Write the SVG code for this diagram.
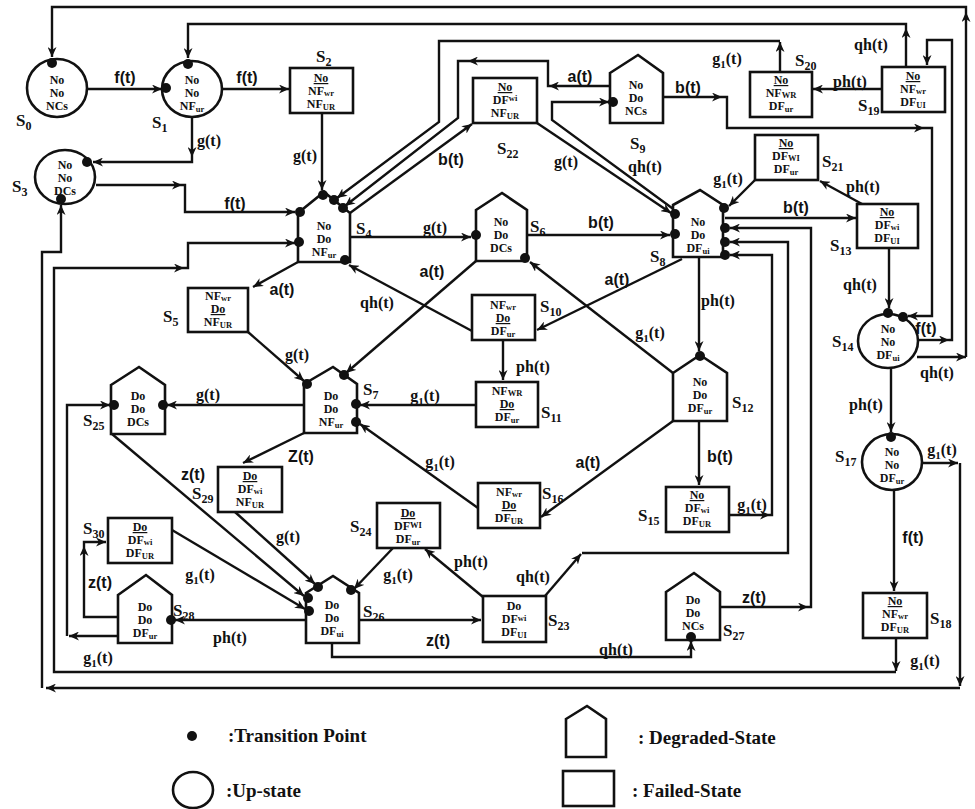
<svg xmlns="http://www.w3.org/2000/svg" width="975" height="809" viewBox="0 0 975 809">
<defs>
<marker id="a" markerWidth="11" markerHeight="9" refX="10" refY="4.5" orient="auto" markerUnits="userSpaceOnUse"><path d="M0,0 L10,4.5 L0,9 L3,4.5 Z" fill="#111"/></marker>
<style>
.n{fill:#fff;stroke:#111;stroke-width:2.6}
.e{fill:none;stroke:#111;stroke-width:2.4;marker-end:url(#a)}
.d{fill:#111}
.t{font-family:"Liberation Serif",serif;font-weight:bold;font-size:12px;text-anchor:middle;fill:#111}
.u{text-decoration:underline}
.s{font-family:"Liberation Serif",serif;font-weight:bold;font-size:17px;fill:#111}
.ls{font-family:"Liberation Sans",sans-serif;font-weight:bold;font-size:16px;text-anchor:middle;fill:#111}
.lr{font-family:"Liberation Serif",serif;font-weight:bold;font-size:16px;text-anchor:middle;fill:#111}
.lg{font-family:"Liberation Serif",serif;font-weight:bold;font-size:19px;fill:#111}
.b{font-size:8.5px}
.g{font-size:11px}
</style>
</defs>
<rect width="975" height="809" fill="#fff"/>

<g id="connectors">
<path class="e" d="M87,89 L162,89"/>
<path class="e" d="M222,89 L289,89"/>
<path class="e" d="M192,118 L192,157"/>
<path class="e" d="M192,157 L192,162 L93,162"/>
<path class="e" d="M96,185 L182,185"/>
<path class="e" d="M182,185 L185,185 L185,212 L295,212"/>
<path class="e" d="M322,113 L322,190"/>
<path class="e" d="M350,237 L471,237"/>
<path class="e" d="M298,262 L253,287"/>
<path class="e" d="M248,332 L304,381"/>
<path class="e" d="M472,331 L349,265"/>
<path class="e" d="M476,261 L346,373"/>
<path class="e" d="M350,213 L472,124"/>
<path class="e" d="M780,72 L780,42"/>
<path class="e" d="M780,41 L439,41 L439,122 L337,198"/>
<path class="e" d="M610,86 L549,86"/>
<path class="e" d="M549,86 L548,86 L548,61 L468,61"/>
<path class="e" d="M468,61 L458,61 L458,118 L345,206"/>
<path class="e" d="M537,123 L671,213"/>
<path class="e" d="M676,211 L552,120 L552,102 L609,102"/>
<path class="e" d="M527,235 L670,235"/>
<path class="e" d="M663,97 L722,97"/>
<path class="e" d="M722,97 L727,97 L727,128 L924,128"/>
<path class="e" d="M924,128 L932,128 L932,316 L908,316"/>
<path class="e" d="M755,180 L729,206"/>
<path class="e" d="M725,218 L856,218"/>
<path class="e" d="M862,204 L820,181"/>
<path class="e" d="M882,89 L813,89"/>
<path class="e" d="M906,67 L906,28"/>
<path class="e" d="M906,28 L906,24 L188,24 L188,58"/>
<path class="e" d="M917,340 L949,340"/>
<path class="e" d="M949,340 L952,340 L952,40 L927,40 L927,65"/>
<path class="e" d="M917,357 L966,357"/>
<path class="e" d="M966,357 L966,12"/>
<path class="e" d="M966,12 L966,7 L52,7 L52,57"/>
<path class="e" d="M889,248 L889,308"/>
<path class="e" d="M891,368 L891,432"/>
<path class="e" d="M922,463 L958,463"/>
<path class="e" d="M960,463 L960,686"/>
<path class="e" d="M960,688 L46,688"/>
<path class="e" d="M42,688 L42,252 L61,252 L61,205"/>
<path class="e" d="M894,490 L894,591"/>
<path class="e" d="M896,638 L896,671"/>
<path class="e" d="M896,672 L54,672 L54,268 L184,268"/>
<path class="e" d="M184,268 L188,268 L188,243 L295,243"/>
<path class="e" d="M699,257 L699,351"/>
<path class="e" d="M682,259 L537,330"/>
<path class="e" d="M673,373 L530,262"/>
<path class="e" d="M503,340 L503,380"/>
<path class="e" d="M476,405 L360,405"/>
<path class="e" d="M478,508 L360,424"/>
<path class="e" d="M699,421 L699,485"/>
<path class="e" d="M673,421 L541,517"/>
<path class="e" d="M729,515 L770,515"/>
<path class="e" d="M770,515 L772,515 L772,255 L730,255"/>
<path class="e" d="M545,596 L581,554"/>
<path class="e" d="M582,553 L788,553 L788,242 L730,242"/>
<path class="e" d="M720,607 L808,607"/>
<path class="e" d="M808,607 L811,607 L811,228 L730,228"/>
<path class="e" d="M304,405 L167,405"/>
<path class="e" d="M304,433 L243,463"/>
<path class="e" d="M112,434 L304,596"/>
<path class="e" d="M235,512 L315,584"/>
<path class="e" d="M172,530 L305,609"/>
<path class="e" d="M393,548 L354,589"/>
<path class="e" d="M483,597 L425,549"/>
<path class="e" d="M359,620 L481,620"/>
<path class="e" d="M306,620 L175,620"/>
<path class="e" d="M332,643 L332,657 L691,657 L691,641"/>
<path class="e" d="M118,617 L84,617 L84,546"/>
<path class="e" d="M84,546 L84,542 L106,542"/>
<path class="e" d="M118,636 L69,636"/>
<path class="e" d="M67,636 L67,405 L110,405"/>
</g>

<g id="edge-labels">
<text class="ls" x="125" y="83">f(t)</text>
<text class="ls" x="247" y="83">f(t)</text>
<text class="lr" x="209" y="146">g(t)</text>
<text class="ls" x="235" y="209">f(t)</text>
<text class="lr" x="305" y="161">g(t)</text>
<text class="lr" x="435" y="233">g(t)</text>
<text class="ls" x="282" y="295">a(t)</text>
<text class="lr" x="297" y="360">g(t)</text>
<text class="lr" x="377" y="308">qh(t)</text>
<text class="ls" x="432" y="277">a(t)</text>
<text class="ls" x="451" y="165">b(t)</text>
<text class="lr" x="727" y="64">g<tspan class="g" dy="4">1</tspan><tspan dy="-4">(t)</tspan></text>
<text class="ls" x="580" y="82">a(t)</text>
<text class="lr" x="566" y="167">g(t)</text>
<text class="lr" x="645" y="172">qh(t)</text>
<text class="ls" x="601" y="228">b(t)</text>
<text class="ls" x="688" y="93">b(t)</text>
<text class="lr" x="728" y="184">g<tspan class="g" dy="4">1</tspan><tspan dy="-4">(t)</tspan></text>
<text class="ls" x="796" y="213">b(t)</text>
<text class="lr" x="863" y="192">ph(t)</text>
<text class="lr" x="850" y="87">ph(t)</text>
<text class="lr" x="871" y="50">qh(t)</text>
<text class="ls" x="926" y="334">f(t)</text>
<text class="lr" x="937" y="378">qh(t)</text>
<text class="lr" x="860" y="290">qh(t)</text>
<text class="lr" x="866" y="410">ph(t)</text>
<text class="lr" x="942" y="455">g<tspan class="g" dy="4">1</tspan><tspan dy="-4">(t)</tspan></text>
<text class="ls" x="913" y="543">f(t)</text>
<text class="lr" x="925" y="666">g<tspan class="g" dy="4">1</tspan><tspan dy="-4">(t)</tspan></text>
<text class="lr" x="718" y="306">ph(t)</text>
<text class="ls" x="617" y="285">a(t)</text>
<text class="lr" x="650" y="338">g<tspan class="g" dy="4">1</tspan><tspan dy="-4">(t)</tspan></text>
<text class="lr" x="533" y="372">ph(t)</text>
<text class="lr" x="425" y="401">g<tspan class="g" dy="4">1</tspan><tspan dy="-4">(t)</tspan></text>
<text class="lr" x="440" y="467">g<tspan class="g" dy="4">1</tspan><tspan dy="-4">(t)</tspan></text>
<text class="ls" x="720" y="462">b(t)</text>
<text class="ls" x="588" y="468">a(t)</text>
<text class="lr" x="752" y="510">g<tspan class="g" dy="4">1</tspan><tspan dy="-4">(t)</tspan></text>
<text class="lr" x="533" y="582">qh(t)</text>
<text class="ls" x="754" y="603">z(t)</text>
<text class="lr" x="208" y="400">g(t)</text>
<text class="ls" x="301" y="462">Z(t)</text>
<text class="ls" x="193" y="480">z(t)</text>
<text class="lr" x="288" y="542">g(t)</text>
<text class="lr" x="200" y="580">g<tspan class="g" dy="4">1</tspan><tspan dy="-4">(t)</tspan></text>
<text class="lr" x="398" y="580">g<tspan class="g" dy="4">1</tspan><tspan dy="-4">(t)</tspan></text>
<text class="lr" x="471" y="567">ph(t)</text>
<text class="ls" x="438" y="646">z(t)</text>
<text class="lr" x="230" y="643">ph(t)</text>
<text class="lr" x="616" y="655">qh(t)</text>
<text class="ls" x="100" y="588">z(t)</text>
<text class="lr" x="98" y="663">g<tspan class="g" dy="4">1</tspan><tspan dy="-4">(t)</tspan></text>
</g>

<g id="S0"><ellipse class="n" cx="57" cy="88" rx="30" ry="29"/><text class="t"><tspan x="57" y="84">No</tspan><tspan x="57" y="97">No</tspan><tspan x="57" y="110">NCs</tspan></text><circle class="d" cx="52" cy="63" r="5"/><text class="s" x="16" y="126">S<tspan font-size="12" dy="4">0</tspan></text></g>
<g id="S1"><ellipse class="n" cx="192" cy="89" rx="30" ry="28"/><text class="t"><tspan x="192" y="84">No</tspan><tspan x="192" y="97">No</tspan><tspan x="192" y="110">NF<tspan class="b" dy="2">ur</tspan></tspan></text><circle class="d" cx="188" cy="64" r="5"/><circle class="d" cx="166" cy="88" r="5"/><text class="s" x="152" y="128">S<tspan font-size="12" dy="4">1</tspan></text></g>
<g id="S2"><rect class="n" x="290" y="68" width="63" height="45"/><text class="t"><tspan class="u" x="321" y="82">No</tspan><tspan x="321" y="95">NF<tspan class="b" dy="0.5">wr</tspan></tspan><tspan x="321" y="108">NF<tspan class="b" dy="2">UR</tspan></tspan></text><text class="s" x="316" y="62">S<tspan font-size="12" dy="4">2</tspan></text></g>
<g id="S3"><ellipse class="n" cx="65" cy="177" rx="30" ry="27"/><text class="t"><tspan x="65" y="169">No</tspan><tspan x="65" y="182">No</tspan><tspan x="65" y="195">DCs</tspan></text><circle class="d" cx="87" cy="162" r="5"/><circle class="d" cx="61" cy="199" r="5"/><text class="s" x="12" y="192">S<tspan font-size="12" dy="4">3</tspan></text></g>
<g id="S4"><polygon class="n" points="298,213 324,192 350,213 350,262 298,262"/><text class="t"><tspan x="324" y="230">No</tspan><tspan x="324" y="243">Do</tspan><tspan x="324" y="256">NF<tspan class="b" dy="2">ur</tspan></tspan></text><circle class="d" cx="300" cy="212" r="5"/><circle class="d" cx="299" cy="242" r="5"/><circle class="d" cx="323" cy="195" r="5"/><circle class="d" cx="334" cy="200" r="5"/><circle class="d" cx="343" cy="208" r="5"/><circle class="d" cx="345" cy="260" r="5"/><text class="s" x="356" y="234">S<tspan font-size="12" dy="4">4</tspan></text></g>
<g id="S5"><rect class="n" x="188" y="288" width="60" height="44"/><text class="t"><tspan x="218" y="300">NF<tspan class="b" dy="0.5">wr</tspan></tspan><tspan class="u" x="218" y="313">Do</tspan><tspan x="218" y="326">NF<tspan class="b" dy="2">UR</tspan></tspan></text><text class="s" x="163" y="322">S<tspan font-size="12" dy="4">5</tspan></text></g>
<g id="S6"><polygon class="n" points="476,210 502,193 527,210 527,261 476,261"/><text class="t"><tspan x="501" y="226">No</tspan><tspan x="501" y="239">Do</tspan><tspan x="501" y="252">DCs</tspan></text><circle class="d" cx="476" cy="235" r="5"/><circle class="d" cx="525" cy="258" r="5"/><text class="s" x="530" y="232">S<tspan font-size="12" dy="4">6</tspan></text></g>
<g id="S7"><polygon class="n" points="304,384 333,367 357,384 357,433 304,433"/><text class="t"><tspan x="331" y="400">Do</tspan><tspan x="331" y="413">Do</tspan><tspan x="331" y="426">NF<tspan class="b" dy="2">ur</tspan></tspan></text><circle class="d" cx="307" cy="384" r="5"/><circle class="d" cx="344" cy="375" r="5"/><circle class="d" cx="356" cy="404" r="5"/><circle class="d" cx="356" cy="422" r="5"/><text class="s" x="363" y="395">S<tspan font-size="12" dy="4">7</tspan></text></g>
<g id="S8"><polygon class="n" points="673,205 700,190 723,205 723,257 673,257"/><text class="t"><tspan x="698" y="226">No</tspan><tspan x="698" y="239">Do</tspan><tspan x="698" y="252">DF<tspan class="b" dy="2">ui</tspan></tspan></text><circle class="d" cx="675" cy="214" r="5"/><circle class="d" cx="675" cy="234" r="5"/><circle class="d" cx="724" cy="208" r="5"/><circle class="d" cx="725" cy="228" r="5"/><circle class="d" cx="725" cy="242" r="5"/><circle class="d" cx="725" cy="255" r="5"/><text class="s" x="650" y="262">S<tspan font-size="12" dy="4">8</tspan></text></g>
<g id="S9"><polygon class="n" points="610,73 638,55 663,73 663,123 610,123"/><text class="t"><tspan x="636" y="89">No</tspan><tspan x="636" y="102">Do</tspan><tspan x="636" y="115">NCs</tspan></text><circle class="d" cx="613" cy="102" r="5"/><text class="s" x="630" y="149">S<tspan font-size="12" dy="4">9</tspan></text></g>
<g id="S10"><rect class="n" x="472" y="295" width="63" height="45"/><text class="t"><tspan x="503" y="309">NF<tspan class="b" dy="0.5">wr</tspan></tspan><tspan class="u" x="503" y="322">Do</tspan><tspan x="503" y="335">DF<tspan class="b" dy="2">ur</tspan></tspan></text><text class="s" x="540" y="312">S<tspan font-size="12" dy="4">10</tspan></text></g>
<g id="S11"><rect class="n" x="476" y="382" width="62" height="45"/><text class="t"><tspan x="507" y="395">NF<tspan class="b" dy="0.5">WR</tspan></tspan><tspan class="u" x="507" y="408">Do</tspan><tspan x="507" y="421">DF<tspan class="b" dy="2">ur</tspan></tspan></text><text class="s" x="541" y="418">S<tspan font-size="12" dy="4">11</tspan></text></g>
<g id="S12"><polygon class="n" points="673,373 700,355 727,373 727,421 673,421"/><text class="t"><tspan x="700" y="386">No</tspan><tspan x="700" y="399">Do</tspan><tspan x="700" y="412">DF<tspan class="b" dy="2">ur</tspan></tspan></text><circle class="d" cx="700" cy="356" r="5"/><text class="s" x="732" y="408">S<tspan font-size="12" dy="4">12</tspan></text></g>
<g id="S13"><rect class="n" x="857" y="204" width="61" height="44"/><text class="t"><tspan class="u" x="887" y="216">No</tspan><tspan x="887" y="229">DF<tspan class="b" dy="0.5">wi</tspan></tspan><tspan x="887" y="242">DF<tspan class="b" dy="2">UI</tspan></tspan></text><text class="s" x="830" y="251">S<tspan font-size="12" dy="4">13</tspan></text></g>
<g id="S14"><ellipse class="n" cx="888" cy="341" rx="30" ry="27"/><text class="t"><tspan x="888" y="333">No</tspan><tspan x="888" y="346">No</tspan><tspan x="888" y="359">DF<tspan class="b" dy="2">ui</tspan></tspan></text><circle class="d" cx="888" cy="313" r="5"/><circle class="d" cx="903" cy="317" r="5"/><text class="s" x="832" y="347">S<tspan font-size="12" dy="4">14</tspan></text></g>
<g id="S15"><rect class="n" x="666" y="487" width="63" height="45"/><text class="t"><tspan class="u" x="697" y="499">No</tspan><tspan x="697" y="512">DF<tspan class="b" dy="0.5">wi</tspan></tspan><tspan x="697" y="525">DF<tspan class="b" dy="2">UR</tspan></tspan></text><text class="s" x="638" y="521">S<tspan font-size="12" dy="4">15</tspan></text></g>
<g id="S16"><rect class="n" x="478" y="483" width="62" height="45"/><text class="t"><tspan x="509" y="496">NF<tspan class="b" dy="0.5">wr</tspan></tspan><tspan class="u" x="509" y="509">Do</tspan><tspan x="509" y="522">DF<tspan class="b" dy="2">UR</tspan></tspan></text><text class="s" x="542" y="499">S<tspan font-size="12" dy="4">16</tspan></text></g>
<g id="S17"><ellipse class="n" cx="892" cy="462" rx="30" ry="28"/><text class="t"><tspan x="892" y="456">No</tspan><tspan x="892" y="469">No</tspan><tspan x="892" y="482">DF<tspan class="b" dy="2">ur</tspan></tspan></text><circle class="d" cx="891" cy="437" r="5"/><text class="s" x="835" y="462">S<tspan font-size="12" dy="4">17</tspan></text></g>
<g id="S18"><rect class="n" x="863" y="593" width="64" height="45"/><text class="t"><tspan class="u" x="895" y="605">No</tspan><tspan x="895" y="618">NF<tspan class="b" dy="0.5">wr</tspan></tspan><tspan x="895" y="631">DF<tspan class="b" dy="2">UR</tspan></tspan></text><text class="s" x="930" y="624">S<tspan font-size="12" dy="4">18</tspan></text></g>
<g id="S19"><rect class="n" x="882" y="67" width="63" height="45"/><text class="t"><tspan class="u" x="913" y="80">No</tspan><tspan x="913" y="93">NF<tspan class="b" dy="0.5">wr</tspan></tspan><tspan x="913" y="106">DF<tspan class="b" dy="2">UI</tspan></tspan></text><text class="s" x="858" y="111">S<tspan font-size="12" dy="4">19</tspan></text></g>
<g id="S20"><rect class="n" x="750" y="72" width="62" height="45"/><text class="t"><tspan class="u" x="781" y="84">No</tspan><tspan x="781" y="97">NF<tspan class="b" dy="0.5">WR</tspan></tspan><tspan x="781" y="110">DF<tspan class="b" dy="2">ur</tspan></tspan></text><text class="s" x="795" y="66">S<tspan font-size="12" dy="4">20</tspan></text></g>
<g id="S21"><rect class="n" x="755" y="135" width="63" height="45"/><text class="t"><tspan class="u" x="786" y="147">No</tspan><tspan x="786" y="160">DF<tspan class="b" dy="0.5">WI</tspan></tspan><tspan x="786" y="173">DF<tspan class="b" dy="2">ur</tspan></tspan></text><text class="s" x="822" y="167">S<tspan font-size="12" dy="4">21</tspan></text></g>
<g id="S22"><rect class="n" x="473" y="78" width="64" height="45"/><text class="t"><tspan class="u" x="505" y="91">No</tspan><tspan x="505" y="104">DF<tspan class="b" dy="-3">wi</tspan></tspan><tspan x="505" y="117">NF<tspan class="b" dy="2">UR</tspan></tspan></text><text class="s" x="497" y="154">S<tspan font-size="12" dy="4">22</tspan></text></g>
<g id="S23"><rect class="n" x="483" y="596" width="63" height="46"/><text class="t"><tspan x="514" y="610">Do</tspan><tspan x="514" y="623">DF<tspan class="b" dy="-2">wi</tspan></tspan><tspan x="514" y="636">DF<tspan class="b" dy="2">UI</tspan></tspan></text><text class="s" x="548" y="626">S<tspan font-size="12" dy="4">23</tspan></text></g>
<g id="S24"><rect class="n" x="377" y="503" width="63" height="45"/><text class="t"><tspan class="u" x="408" y="517">Do</tspan><tspan x="408" y="530">DF<tspan class="b" dy="-2">WI</tspan></tspan><tspan x="408" y="543">DF<tspan class="b" dy="2">ur</tspan></tspan></text><text class="s" x="350" y="532">S<tspan font-size="12" dy="4">24</tspan></text></g>
<g id="S25"><polygon class="n" points="111,385 139,367 165,385 165,434 111,434"/><text class="t"><tspan x="138" y="400">Do</tspan><tspan x="138" y="413">Do</tspan><tspan x="138" y="426">DCs</tspan></text><circle class="d" cx="114" cy="405" r="5"/><circle class="d" cx="163" cy="405" r="5"/><text class="s" x="83" y="426">S<tspan font-size="12" dy="4">25</tspan></text></g>
<g id="S26"><polygon class="n" points="306,593 333,576 359,593 359,643 306,643"/><text class="t"><tspan x="332" y="609">Do</tspan><tspan x="332" y="622">Do</tspan><tspan x="332" y="635">DF<tspan class="b" dy="2">ui</tspan></tspan></text><circle class="d" cx="318" cy="587" r="5"/><circle class="d" cx="308" cy="598" r="5"/><circle class="d" cx="309" cy="611" r="5"/><circle class="d" cx="351" cy="590" r="5"/><text class="s" x="363" y="617">S<tspan font-size="12" dy="4">26</tspan></text></g>
<g id="S27"><polygon class="n" points="666,592 694,573 720,592 720,640 666,640"/><text class="t"><tspan x="693" y="604">Do</tspan><tspan x="693" y="617">Do</tspan><tspan x="693" y="630">NCs</tspan></text><circle class="d" cx="691" cy="637" r="5"/><text class="s" x="723" y="636">S<tspan font-size="12" dy="4">27</tspan></text></g>
<g id="S28"><polygon class="n" points="118,595 146,575 172,595 172,643 118,643"/><text class="t"><tspan x="145" y="611">Do</tspan><tspan x="145" y="624">Do</tspan><tspan x="145" y="637">DF<tspan class="b" dy="2">ur</tspan></tspan></text><circle class="d" cx="171" cy="620" r="5"/><text class="s" x="173" y="616">S<tspan font-size="12" dy="4">28</tspan></text></g>
<g id="S29"><rect class="n" x="218" y="467" width="64" height="45"/><text class="t"><tspan class="u" x="250" y="480">Do</tspan><tspan x="250" y="493">DF<tspan class="b" dy="0.5">wi</tspan></tspan><tspan x="250" y="506">NF<tspan class="b" dy="2">UR</tspan></tspan></text><text class="s" x="192" y="499">S<tspan font-size="12" dy="4">29</tspan></text></g>
<g id="S30"><rect class="n" x="108" y="518" width="64" height="45"/><text class="t"><tspan class="u" x="140" y="531">Do</tspan><tspan x="140" y="544">DF<tspan class="b" dy="0.5">wi</tspan></tspan><tspan x="140" y="557">DF<tspan class="b" dy="2">UR</tspan></tspan></text><text class="s" x="83" y="534">S<tspan font-size="12" dy="4">30</tspan></text></g>

<g id="legend">
<circle class="d" cx="192" cy="736" r="5"/><text class="lg" x="228" y="742">:Transition Point</text>
<polygon class="n" points="566,719 587,706 606,719 606,757 566,757"/><text class="lg" x="638" y="744">: Degraded-State</text>
<ellipse class="n" cx="193" cy="790" rx="20" ry="18"/><text class="lg" x="226" y="797">:Up-state</text>
<rect class="n" x="563" y="771" width="51" height="35"/><text class="lg" x="632" y="797">: Failed-State</text>
</g>
</svg>
